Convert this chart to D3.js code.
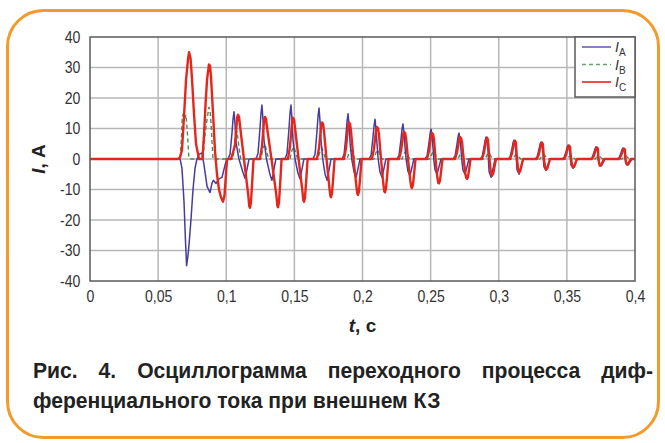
<!DOCTYPE html>
<html>
<head>
<meta charset="utf-8">
<script src="https://cdn.jsdelivr.net/npm/d3@7"></script>
<style>
  html, body { margin: 0; padding: 0; background: #ffffff; }
  svg { display: block; }
  .tick-label { font-family: "Liberation Sans", Arial, sans-serif; font-size: 16px; fill: #333; }
  .caption { font-family: "Liberation Sans", Arial, sans-serif; font-weight: bold; font-size: 22px; fill: #222; }
  .axis-title { font-family: "Liberation Sans", Arial, sans-serif; font-weight: bold; font-size: 19px; fill: #222; }
</style>
</head>
<body>
<svg id="chart" width="665" height="443"></svg>
<script>
// Time axis (s) and current axis (A)
const timeTicks = [0, 0.05, 0.1, 0.15, 0.2, 0.25, 0.3, 0.35, 0.4];
const timeTickLabels = ["0", "0,05", "0,1", "0,15", "0,2", "0,25", "0,3", "0,35", "0,4"];
const currentTicks = [40, 30, 20, 10, 0, -10, -20, -30, -40];
const currentTickLabels = ["40", "30", "20", "10", "0", "-10", "-20", "-30", "-40"];

const seriesNames = ["A", "B", "C"];

// Phase A differential current: [time, ms; current, A]
const currentA = [
  [0,0],[66.1,0],[67.5,-3],[69.0,-14],[70.0,-26],[70.9,-35],[71.8,-32],[72.7,-28],[74.1,-20],[75.6,-10],[77.1,-3],[78.5,0],
  [80.0,1.5],[82.2,2],[83.7,-2],[85.9,-9],[88.1,-11],[89.5,-8],[90.6,-7],[92.5,-8],[94.7,-6.5],[96.9,-6],[99.1,-2],[100.6,0],
  [101.3,0],[102.8,1.6],[104.2,8.5],[105.0,13.2],[105.7,15.5],[106.4,11.6],[107.2,5.4],[109.3,0],[112.3,-4.4],[113.8,-6.3],[115.3,-3.2],[116.7,0],
  [121.8,0],[123.3,1.8],[124.7,9.7],[125.5,15],[126.2,17.7],[126.9,13.3],[127.7,6.2],[129.5,0],[132.0,-4.9],[133.5,-7],[135.0,-3.5],[136.4,0],
  [143.1,0],[144.6,1.8],[146.0,9.7],[146.8,15],[147.5,17.7],[148.2,13.3],[149.0,6.2],[150.5,0],[152.6,-4.6],[154.1,-6.5],[155.6,-3.3],[157.0,0],
  [163.7,0],[165.2,1.7],[166.6,9.2],[167.4,14.2],[168.1,16.7],[168.8,12.5],[169.6,5.8],[170.8,0],[172.5,-4.9],[174.0,-7],[175.5,-3.5],[176.9,0],
  [185.0,0],[186.5,1.5],[187.9,8.1],[188.7,12.6],[189.4,14.8],[190.1,11.1],[190.9,5.2],[192.1,0],[193.8,-4.2],[195.3,-6],[196.8,-3],[198.2,0],
  [204.8,0],[206.3,1.3],[207.7,7.2],[208.5,11],[209.2,13],[209.9,9.8],[210.7,4.6],[211.5,0],[212.8,-4.2],[214.3,-6],[215.8,-3],[217.2,0],
  [225.3,0],[226.8,1.2],[228.2,6.3],[229.0,9.8],[229.7,11.5],[230.4,8.6],[231.2,4],[232.0,0],[233.3,-3.9],[234.8,-5.5],[236.3,-2.8],[237.7,0],
  [245.9,0],[247.4,1],[248.8,5.4],[249.6,8.3],[250.3,9.8],[251.0,7.4],[251.8,3.4],[252.3,0],[253.2,-3.5],[254.7,-5],[256.2,-2.5],[257.6,0],
  [266.4,0],[267.9,0.9],[269.3,4.7],[270.1,7.2],[270.8,8.5],[271.5,6.4],[272.3,3],[272.8,0],[273.7,-3.5],[275.2,-5],[276.7,-2.5],[278.1,0],
  [286.3,0],[287.8,0.7],[289.2,4],[290.0,6.1],[290.7,7.2],[291.4,5.4],[292.2,2.5],[292.4,0],[292.9,-4.2],[294.4,-6],[295.9,-3],[297.3,0],
  [306.8,0],[308.3,0.6],[309.7,3.4],[310.5,5.3],[311.2,6.2],[311.9,4.7],[312.7,2.2],[312.9,0],[313.4,-3.5],[314.9,-5],[316.4,-2.5],[317.8,0],
  [326.6,0],[328.1,0.6],[329.5,3.1],[330.3,4.8],[331.0,5.6],[331.7,4.2],[332.5,2],[332.7,0],[333.2,-2.6],[334.7,-3.7],[336.2,-1.9],[337.6,0],
  [346.5,0],[348.0,0.5],[349.4,2.5],[350.2,3.9],[350.9,4.6],[351.6,3.5],[352.4,1.6],[352.6,0],[353.1,-2.1],[354.6,-3],[356.1,-1.5],[357.5,0],
  [367.0,0],[368.5,0.4],[369.9,2.2],[370.7,3.4],[371.4,4],[372.1,3],[372.9,1.4],[373.1,0],[373.6,-1.6],[375.1,-2.3],[376.6,-1.2],[378.0,0],
  [386.8,0],[388.3,0.4],[389.7,2],[390.5,3.1],[391.2,3.6],[391.9,2.7],[392.7,1.3],[392.9,0],[393.4,-1.4],[394.9,-2],[396.4,-1],[397.8,0],[400,0]
];

// Phase B differential current
const currentB = [
  [0,0],[66.1,0],[67.0,6],[67.7,14],[68.7,15],[69.7,13.5],[70.5,14.5],[71.4,9],[72.5,1],[73.4,0],
  [82.9,0],[84.4,8],[85.9,13],[87.3,17],[88.1,16],[88.8,12],[89.5,6],[90.3,0],
  [105.0,0],[106.4,6.3],[107.9,9],[109.4,3.6],[110.7,0],
  [125.5,0],[126.9,3.5],[128.4,5],[129.9,2],[131.2,0],
  [146.8,0],[148.2,2.8],[149.7,4],[151.2,1.6],[152.5,0],
  [167.4,0],[168.8,2.5],[170.3,3.5],[171.8,1.4],[173.1,0],
  [188.7,0],[190.1,2.1],[191.6,3],[193.1,1.2],[194.4,0],
  [208.5,0],[209.9,2.1],[211.4,3],[212.9,1.2],[214.2,0],
  [229.0,0],[230.4,1.8],[231.9,2.5],[233.4,1],[234.7,0],
  [249.6,0],[251.0,1.8],[252.5,2.5],[254.0,1],[255.3,0],
  [270.1,0],[271.5,1.4],[273.0,2],[274.5,0.8],[275.8,0],
  [290.0,0],[291.4,1.4],[292.9,2],[294.4,0.8],[295.7,0],
  [310.5,0],[311.9,1.1],[313.4,1.5],[314.9,0.6],[316.2,0],
  [330.3,0],[331.7,1.1],[333.2,1.5],[334.7,0.6],[336.0,0],
  [350.2,0],[351.6,0.8],[353.1,1.2],[354.6,0.5],[355.9,0],
  [370.7,0],[372.1,0.7],[373.6,1],[375.1,0.4],[376.4,0],
  [390.5,0],[391.9,0.7],[393.4,1],[394.9,0.4],[396.2,0],[400,0]
];

// Phase C differential current
const currentC = [
  [0,0],[64.6,0],[66.1,0.5],[67.5,3],[69.0,14],[70.5,26],[72.0,33],[72.7,35],[73.8,33],[74.9,26],[76.3,15],[77.8,5],[80.0,0],
  [82.5,0],[83.7,8],[84.8,18],[85.9,26],[87.3,31],[88.1,30.5],[88.8,27],[90.3,15],[91.7,3],[93.2,-5],[94.7,-10],[96.1,-12.5],[97.6,-14],[98.7,-12],[99.8,-5],[100.6,0],
  [103.5,0],[106.4,4.4],[107.4,10.2],[108.1,13.8],[108.6,14.5],[109.4,13.8],[110.1,10.9],[113.0,0],[116.2,-12],[116.9,-15.5],[117.4,-16],[118.1,-14.4],[119.0,-8],[120.0,0],
  [124.7,0],[126.2,4.1],[127.2,9.7],[127.9,13.1],[128.4,13.8],[129.2,13.1],[129.9,10.4],[133.2,0],[136.8,-11.9],[137.5,-15.3],[138.0,-15.8],[138.7,-14.2],[139.6,-7.9],[140.6,0],
  [145.3,0],[146.8,4.1],[147.8,9.5],[148.5,12.8],[149.0,13.5],[149.8,12.8],[150.5,10.1],[153.1,0],[155.9,-10.5],[156.6,-13.6],[157.1,-14],[157.8,-12.6],[158.7,-7],[159.7,0],
  [166.6,0],[168.1,3.6],[169.1,8.4],[169.8,11.4],[170.3,12],[171.1,11.4],[171.8,9],[173.6,0],[175.7,-9.4],[176.4,-12.1],[176.9,-12.5],[177.6,-11.3],[178.5,-6.3],[179.5,0],
  [186.4,0],[187.9,3.6],[188.9,8.4],[189.6,11.4],[190.1,12],[190.9,11.4],[191.6,9],[193.4,0],[195.5,-8.9],[196.2,-11.4],[196.7,-11.8],[197.4,-10.6],[198.3,-5.9],[199.3,0],
  [206.9,0],[208.4,3.2],[209.4,7.4],[210.1,10],[210.6,10.5],[211.4,10],[212.1,7.9],[213.6,0],[215.3,-8.2],[216.0,-10.6],[216.5,-10.9],[217.2,-9.8],[218.1,-5.5],[219.1,0],
  [226.8,0],[228.3,2.7],[229.3,6.2],[230.0,8.5],[230.5,8.9],[231.3,8.5],[232.0,6.7],[233.4,0],[235.1,-7.1],[235.8,-9.2],[236.3,-9.5],[237.0,-8.6],[237.9,-4.8],[238.9,0],
  [247.3,0],[248.8,2.6],[249.8,6],[250.5,8.1],[251.0,8.5],[251.8,8.1],[252.5,6.4],[253.6,0],[254.9,-6],[255.6,-7.8],[256.1,-8],[256.8,-7.2],[257.7,-4],[258.7,0],
  [267.9,0],[269.4,2.2],[270.4,5],[271.1,6.8],[271.6,7.2],[272.4,6.8],[273.1,5.4],[274.2,0],[275.5,-4.9],[276.2,-6.3],[276.7,-6.5],[277.4,-5.9],[278.3,-3.3],[279.3,0],
  [287.7,0],[289.2,2.1],[289.9,4.2],[290.7,6.3],[291.4,7],[292.1,6.3],[292.7,2.8],[293.2,0],[294.1,-3.9],[295.0,-5.5],[296.0,-4.7],[297.2,-1.7],[298.0,0],
  [308.2,0],[309.7,1.8],[310.4,3.6],[311.2,5.4],[311.9,6],[312.6,5.4],[313.0,2.4],[313.4,0],[314.2,-3.2],[314.9,-4.5],[315.9,-3.8],[317.1,-1.4],[317.9,0],
  [328.0,0],[329.5,1.6],[330.2,3.2],[331.0,4.9],[331.7,5.4],[332.4,4.9],[332.8,2.2],[333.2,0],[334.0,-2.5],[334.7,-3.5],[335.7,-3],[336.9,-1.1],[337.7,0],
  [347.9,0],[349.4,1.3],[350.1,2.6],[350.9,4],[351.6,4.4],[352.3,4],[352.7,1.8],[353.1,0],[353.8,-2],[354.5,-2.8],[355.5,-2.4],[356.7,-0.8],[357.5,0],
  [368.4,0],[369.9,1.1],[370.6,2.3],[371.4,3.4],[372.1,3.8],[372.8,3.4],[373.0,1.5],[373.2,0],[373.7,-1.5],[374.3,-2.2],[375.3,-1.9],[376.5,-0.7],[377.3,0],
  [388.2,0],[389.7,1],[390.4,2],[391.2,3.1],[391.9,3.4],[392.6,3.1],[392.8,1.4],[393.0,0],[393.5,-1.3],[394.1,-1.8],[395.1,-1.5],[396.3,-0.5],[397.1,0],[400,0]
];

const captionLines = [
  "Рис. 4. Осциллограмма переходного процесса диф-",
  "ференциального тока при внешнем КЗ"
];

const svg = d3.select("#chart");

// Rounded orange frame around the figure
svg.append("rect")
  .attr("x", 7.5).attr("y", 10.5)
  .attr("width", 651).attr("height", 427)
  .attr("rx", 36).attr("ry", 36)
  .attr("fill", "#ffffff")
  .attr("stroke", "#f39a2b")
  .attr("stroke-width", 3);

const plot = { left: 90, right: 635, top: 37, bottom: 281 };

const x = d3.scaleLinear().domain([0, 0.4]).range([plot.left, plot.right]);
const y = d3.scaleLinear().domain([-40, 40]).range([plot.bottom, plot.top]);

const g = svg.append("g");

// Grid
g.append("g").selectAll("line")
  .data(timeTicks.slice(1, -1))
  .join("line")
  .attr("x1", d => x(d)).attr("x2", d => x(d))
  .attr("y1", plot.top).attr("y2", plot.bottom)
  .attr("stroke", "#b7b7b7").attr("stroke-width", 1.5);

g.append("g").selectAll("line")
  .data(currentTicks.slice(1, -1))
  .join("line")
  .attr("x1", plot.left).attr("x2", plot.right)
  .attr("y1", d => y(d)).attr("y2", d => y(d))
  .attr("stroke", "#b7b7b7").attr("stroke-width", 1.5);

// Axes with comma decimal separator
const xAxis = d3.axisBottom(x).tickValues(timeTicks)
  .tickFormat((d, i) => timeTickLabels[i]).tickSize(0).tickPadding(10);
const yAxis = d3.axisLeft(y).tickValues(currentTicks)
  .tickFormat((d, i) => currentTickLabels[i]).tickSize(0).tickPadding(11);

const gx = g.append("g").attr("transform", `translate(0,${plot.bottom})`).call(xAxis);
const gy = g.append("g").attr("transform", `translate(${plot.left},0)`).call(yAxis);
[gx, gy].forEach(a => {
  a.select(".domain").remove();
  a.selectAll("text")
    .attr("class", "tick-label")
    .attr("fill", "#333")
    .attr("transform", "scale(0.88,1)");
});

// Waveforms
const line = d3.line()
  .x(d => x(d[0] / 1000))
  .y(d => y(d[1]))
  .curve(d3.curveLinear);

svg.append("clipPath").attr("id", "plotClip")
  .append("rect").attr("x", plot.left).attr("y", plot.top)
  .attr("width", plot.right - plot.left).attr("height", plot.bottom - plot.top);

const traces = g.append("g").attr("clip-path", "url(#plotClip)");

const styles = {
  A: { data: currentA, color: "#463c9e", width: 1.5, dash: null },
  B: { data: currentB, color: "#4f8c55", width: 1.4, dash: "4,3" },
  C: { data: currentC, color: "#e5261b", width: 2.4, dash: null }
};

["B", "A", "C"].forEach(k => {
  const s = styles[k];
  traces.append("path")
    .datum(s.data)
    .attr("d", line)
    .attr("fill", "none")
    .attr("stroke", s.color)
    .attr("stroke-width", s.width)
    .attr("stroke-linejoin", "round")
    .attr("stroke-dasharray", s.dash);
});

// Plot border
g.append("rect")
  .attr("x", plot.left).attr("y", plot.top)
  .attr("width", plot.right - plot.left).attr("height", plot.bottom - plot.top)
  .attr("fill", "none").attr("stroke", "#5a5a5a").attr("stroke-width", 1.5);

// Legend
const legend = g.append("g");
legend.append("rect")
  .attr("x", 575).attr("y", plot.top)
  .attr("width", plot.right - 575).attr("height", 60)
  .attr("fill", "#ffffff").attr("stroke", "#5a5a5a").attr("stroke-width", 1.5);

const legendColors = { A: "#6a5fb8", B: "#6e9f72", C: "#e5261b" };
seriesNames.forEach((k, i) => {
  const ly = 47 + i * 17.5;
  legend.append("line")
    .attr("x1", 582).attr("x2", 611).attr("y1", ly).attr("y2", ly)
    .attr("stroke", legendColors[k])
    .attr("stroke-width", 1.6)
    .attr("stroke-dasharray", styles[k].dash);
  const t = legend.append("text")
    .attr("x", 615).attr("y", ly + 5)
    .attr("font-family", "Liberation Sans, Arial, sans-serif")
    .attr("font-size", 14).attr("fill", "#333");
  t.append("tspan").attr("font-style", "italic").text("I");
  t.append("tspan").attr("font-size", 10).attr("dy", 4).text(k);
});

// Axis titles
const yTitle = svg.append("text")
  .attr("class", "axis-title")
  .attr("transform", `translate(45,${y(0)}) rotate(-90)`)
  .attr("text-anchor", "middle");
yTitle.append("tspan").attr("font-style", "italic").text("I");
yTitle.append("tspan").text(", А");

const xTitle = svg.append("text")
  .attr("class", "axis-title")
  .attr("x", x(0.2)).attr("y", 332)
  .attr("text-anchor", "middle");
xTitle.append("tspan").attr("font-style", "italic").text("t");
xTitle.append("tspan").text(", с");

// Caption: bold, slightly condensed, first line justified by word spacing
const capScale = 0.96;
const capLeft = 33, capRight = 653;
captionLines.forEach((txt, i) => {
  const cg = svg.append("g")
    .attr("transform", `translate(${capLeft},${378 + i * 30}) scale(${capScale},1)`);
  const t = cg.append("text").attr("class", "caption").attr("x", 0).attr("y", 0).text(txt);
  if (i === 0) {
    const natural = t.node().getComputedTextLength();
    const spaces = (txt.match(/ /g) || []).length;
    const target = (capRight - capLeft) / capScale;
    t.attr("word-spacing", Math.max(0, (target - natural) / spaces));
  }
});
</script>
</body>
</html>
